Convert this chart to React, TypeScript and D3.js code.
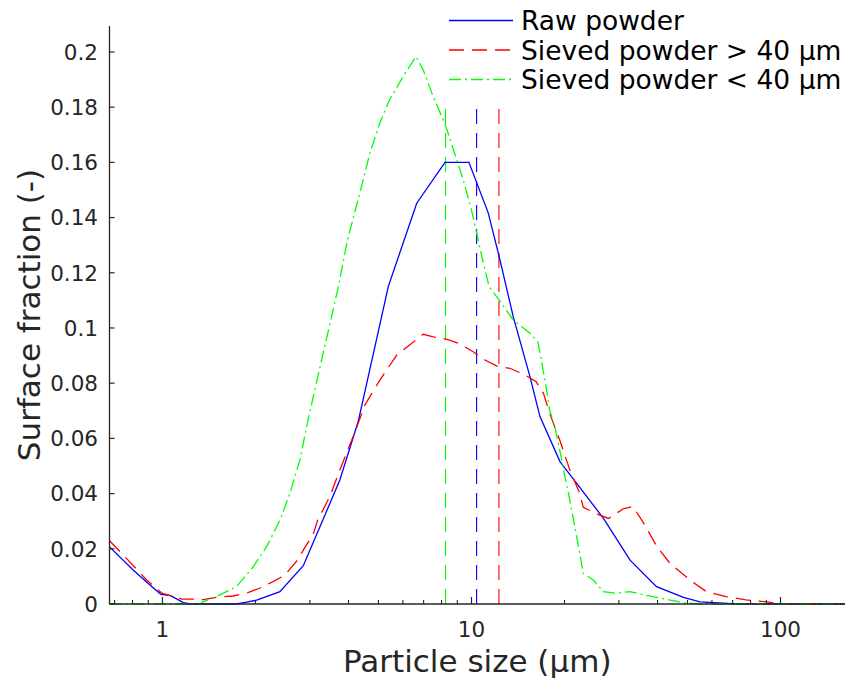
import React from "react";
import * as d3 from "d3";

const rawSize = [0.674, 0.804, 0.911, 0.989, 1.063, 1.168, 1.227, 1.738, 1.873, 2.018, 2.40, 2.856, 3.234, 3.75, 4.30, 5.38, 6.65, 8.21, 9.81, 11.33, 12.37, 13.65, 15.46, 16.66, 19.34, 21.9, 26.7, 32.6, 39.7, 48.5, 54.9, 72.1, 161.7];
const rawFrac = [0.0207, 0.0123, 0.0069, 0.0035, 0.0030, 0.0005, 0, 0, 0.0007, 0.0014, 0.0045, 0.0139, 0.028, 0.0449, 0.0661, 0.115, 0.1452, 0.160, 0.160, 0.1417, 0.1246, 0.1041, 0.0824, 0.0679, 0.0516, 0.0437, 0.0311, 0.0159, 0.0063, 0.0024, 0.0008, 0, 0];

const coarseSize = [0.674, 0.746, 0.889, 0.996, 1.154, 1.29, 1.32, 1.535, 1.69, 1.89, 2.07, 2.28, 2.49, 2.74, 2.9, 3.07, 3.18, 3.48, 3.73, 3.98, 4.20, 4.52, 5.06, 5.73, 6.98, 7.52, 8.34, 9.06, 10.13, 11.05, 12.2, 13.3, 14.9, 16.2, 17.1, 17.9, 19.3, 20.8, 22.4, 23.0, 26.0, 27.8, 31.0, 33.3, 36.0, 39.8, 43.9, 50.9, 57.5, 66.6, 77.3, 90.2, 100, 161.7];
const coarseFrac = [0.0229, 0.0178, 0.0087, 0.0039, 0.0018, 0.0018, 0.0014, 0.0026, 0.0029, 0.0041, 0.0058, 0.0081, 0.0105, 0.016, 0.0208, 0.025, 0.0304, 0.0389, 0.0479, 0.0558, 0.0624, 0.0721, 0.0812, 0.0902, 0.0977, 0.0968, 0.0959, 0.0945, 0.0914, 0.0884, 0.086, 0.0854, 0.083, 0.0805, 0.0763, 0.0691, 0.0594, 0.0486, 0.0401, 0.0350, 0.0322, 0.031, 0.0345, 0.0353, 0.0295, 0.0208, 0.0147, 0.0087, 0.0045, 0.0027, 0.0015, 0.0008, 0, 0];

const fineSize = [0.674, 1.32, 1.355, 1.535, 1.738, 1.967, 2.174, 2.40, 2.585, 2.785, 2.96, 3.076, 3.486, 3.70, 3.97, 4.35, 4.69, 5.05, 5.43, 6.00, 6.61, 6.98, 7.52, 8.10, 8.34, 8.75, 9.41, 10.0, 10.4, 10.9, 11.4, 12.3, 13.65, 15.45, 16.4, 16.9, 17.5, 17.9, 18.6, 19.3, 20.0, 20.6, 21.4, 22.4, 23.0, 24.8, 26.7, 29.5, 32.6, 36.0, 39.8, 43.9, 48.5, 55, 161.7];
const fineFrac = [0, 0, 0.0008, 0.0033, 0.0063, 0.0135, 0.0208, 0.0304, 0.0401, 0.0522, 0.0667, 0.0751, 0.1017, 0.1144, 0.1319, 0.1488, 0.1633, 0.1742, 0.1826, 0.191, 0.1983, 0.1935, 0.1838, 0.1754, 0.1717, 0.1645, 0.1536, 0.1428, 0.1343, 0.1240, 0.1150, 0.1101, 0.1029, 0.0981, 0.095, 0.0872, 0.0775, 0.0703, 0.0642, 0.0558, 0.0470, 0.0401, 0.0304, 0.0184, 0.0111, 0.0087, 0.0045, 0.0039, 0.0045, 0.0033, 0.0024, 0.0014, 0.0005, 0, 0];

const medianSizes = [10.39, 12.27, 8.24];
const medianTop = 0.18;

const seriesNames = ["Raw powder", "Sieved powder > 40 µm", "Sieved powder < 40 µm"];
const seriesColors = ["#0000ff", "#ff0000", "#00ff00"];
const seriesDash = ["none", "15,8", "12,4,2,4"];

const yTicks = [0, 0.02, 0.04, 0.06, 0.08, 0.1, 0.12, 0.14, 0.16, 0.18, 0.2];
const xMajor = [1, 10, 100];
const xDomain = [0.674, 161.7];
const yDomain = [0, 0.2094];

export default function App() {
  const W = 845, H = 679;
  const left = 109.5, right = 845, top = 26, bottom = 604;
  const x = d3.scaleLog().domain(xDomain).range([left, right]);
  const y = d3.scaleLinear().domain(yDomain).range([bottom, top]);
  const axisColor = "#262626";
  const font = "'DejaVu Sans', sans-serif";

  const minor: number[] = [];
  for (const dec of [0.1, 1, 10, 100]) {
    for (let k = 2; k <= 9; k++) {
      const v = dec * k;
      if (v >= xDomain[0] && v <= xDomain[1]) minor.push(v);
    }
  }

  const line = d3.line<[number, number]>().x(d => x(d[0])).y(d => y(d[1]));
  const sets = [
    rawSize.map((s, i) => [s, rawFrac[i]] as [number, number]),
    coarseSize.map((s, i) => [s, coarseFrac[i]] as [number, number]),
    fineSize.map((s, i) => [s, fineFrac[i]] as [number, number]),
  ];

  return (
    <svg width={W} height={H} style={{ position: "absolute", left: 0, top: 0, background: "#fff" }} fontFamily={font}>
      <rect x={0} y={0} width={W} height={H} fill="#fff" />
      {medianSizes.map((m, i) => (
        <line key={"m" + i} x1={x(m)} x2={x(m)} y1={y(0)} y2={y(medianTop)} stroke={seriesColors[i]} strokeWidth={1.1} strokeDasharray="15,9" />
      ))}
      {sets.map((d, i) => (
        <path key={"c" + i} d={line(d) || ""} fill="none" stroke={seriesColors[i]} strokeWidth={1.3} strokeDasharray={seriesDash[i]} />
      ))}
      <line x1={left} x2={left} y1={top} y2={bottom} stroke={axisColor} strokeWidth={1.3} />
      <line x1={left} x2={right} y1={bottom} y2={bottom} stroke={axisColor} strokeWidth={1.3} />
      {yTicks.map(t => (
        <g key={"y" + t}>
          <line x1={left} x2={left + 5} y1={y(t)} y2={y(t)} stroke={axisColor} strokeWidth={1.2} />
          <text x={98} y={y(t)} dy="0.36em" textAnchor="end" fontSize={21.5} fill={axisColor}>{String(t)}</text>
        </g>
      ))}
      {xMajor.map(t => (
        <g key={"x" + t}>
          <line x1={x(t)} x2={x(t)} y1={bottom} y2={bottom - 7} stroke={axisColor} strokeWidth={1.2} />
          <text x={x(t)} y={637} textAnchor="middle" fontSize={21.5} fill={axisColor}>{String(t)}</text>
        </g>
      ))}
      {minor.map(t => (
        <line key={"n" + t} x1={x(t)} x2={x(t)} y1={bottom} y2={bottom - 4} stroke={axisColor} strokeWidth={1.1} />
      ))}
      <text x={(left + right) / 2} y={672} textAnchor="middle" fontSize={31} fill={axisColor}>Particle size (µm)</text>
      <text transform={`translate(40,${(top + bottom) / 2}) rotate(-90)`} textAnchor="middle" fontSize={31} fill={axisColor}>Surface fraction (-)</text>
      {seriesNames.map((n, i) => {
        const ly = 20.5 + i * 29.5;
        return (
          <g key={"l" + i}>
            <line x1={449} x2={513} y1={ly} y2={ly} stroke={seriesColors[i]} strokeWidth={1.3} strokeDasharray={seriesDash[i]} />
            <text x={521} y={ly} dy="0.36em" fontSize={26.5} fill="#000">{n}</text>
          </g>
        );
      })}
    </svg>
  );
}
